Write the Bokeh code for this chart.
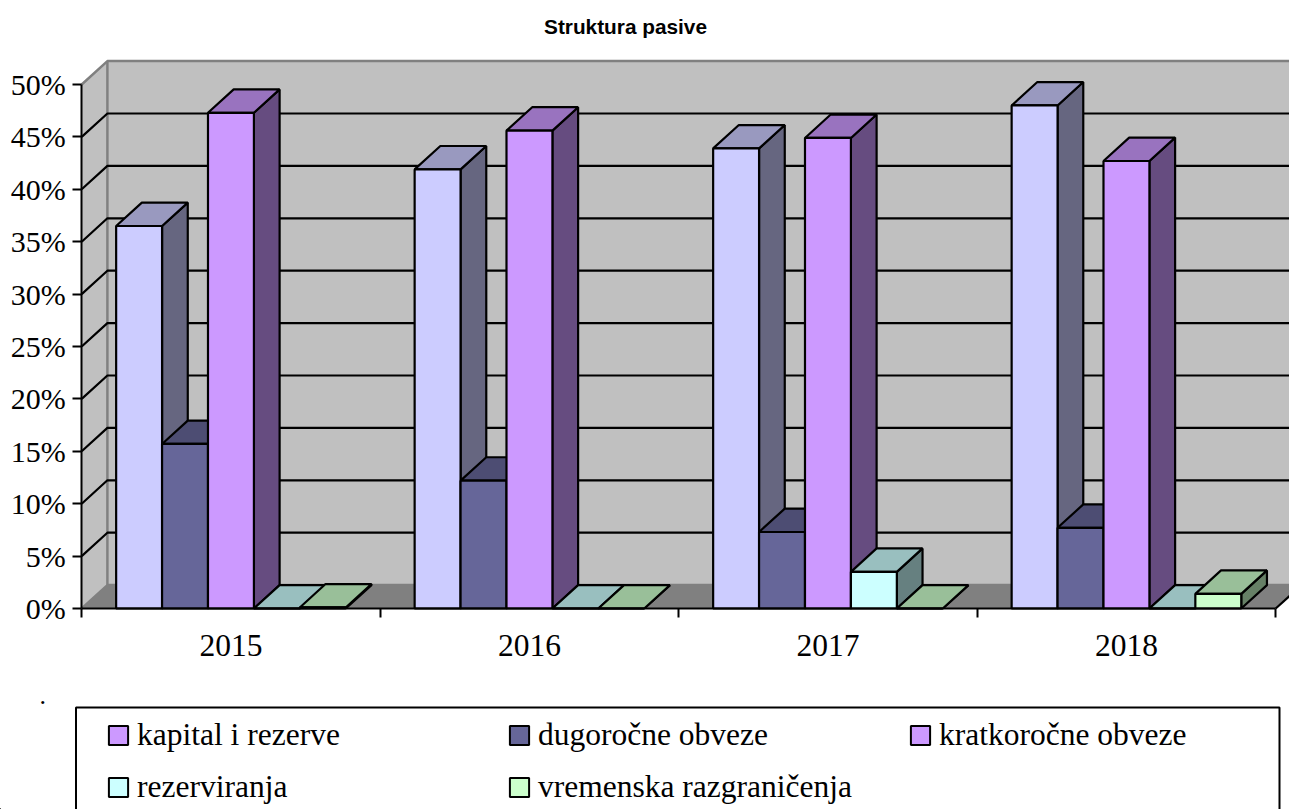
from bokeh.plotting import figure
from bokeh.embed import file_html
from bokeh.resources import INLINE
from bokeh.models import (FixedTicker, Legend, LegendItem, BoxAnnotation, Label, Range1d)

years = ["2015", "2016", "2017", "2018"]
kapital = [36.5, 41.9, 43.9, 48.0]
dugorocne = [15.7, 12.2, 7.3, 7.7]
kratkorocne = [47.3, 45.6, 44.9, 42.7]
rezerviranja = [0.0, 0.0, 3.5, 0.0]
vremenska = [0.1, 0.0, 0.0, 1.4]
series = [kapital, dugorocne, kratkorocne, rezerviranja, vremenska]
series_names = ["kapital i rezerve", "dugoročne obveze", "kratkoročne obveze", "rezerviranja", "vremenska razgraničenja"]
front_colors = ["#CCCCFF", "#666699", "#CC99FF", "#CCFFFF", "#CCFFCC"]
top_colors = ["#9999BF", "#4D4D73", "#9973BF", "#99BFBF", "#99BF99"]
side_colors = ["#666680", "#33334D", "#664C80", "#668080", "#668066"]
legend_colors = ["#CC99FF", "#666699", "#CC99FF", "#CCFFFF", "#CCFFCC"]
y_ticks = [0, 5, 10, 15, 20, 25, 30, 35, 40, 45, 50]

W, H = 1289, 809
PX_X = 298.5
PX_Y = 10.48
X0 = 81.2
Y0 = 608
DX = 25.7 / PX_X
DY = 23.4 / PX_Y
BW = 1 / 6.5
GAP = 0.75 * BW
X_END = (W - X0) / PX_X
LW = 2.2

p = figure(width=W, height=H,
           x_range=Range1d(-X0 / PX_X, X_END), y_range=Range1d((Y0 - H) / PX_Y, Y0 / PX_Y),
           output_backend="svg", toolbar_location=None,
           min_border=0, outline_line_color=None, background_fill_color="white")
p.grid.visible = False

# walls and floor
xe = 4
p.patch([DX, xe + DX, xe + DX, DX], [DY, DY, 50 + DY, 50 + DY], fill_color="#C0C0C0", line_color=None)
p.patch([0, DX, DX, 0], [0, DY, 50 + DY, 50], fill_color="#C0C0C0", line_color=None)
p.patch([0, DX, xe + DX, xe], [0, DY, DY, 0], fill_color="#808080", line_color=None)

# wall outlines
p.multi_line([[0, DX, xe + DX], [DX, DX], [0, DX], [DX, xe + DX]],
             [[50, 50 + DY, 50 + DY], [DY, 50 + DY], [0, DY], [DY, DY]],
             line_color="#808080", line_width=2.5)
p.line([xe, xe + DX], [0, DY], line_color="black", line_width=LW)
# gridlines
gx, gy = [], []
for v in y_ticks[1:-1]:
    gx.append([0, DX, xe + DX])
    gy.append([v, v + DY, v + DY])
p.multi_line(gx, gy, line_color="black", line_width=LW)

# 3D bars: painter's order, side and top first, then the front
xs, ys, fills = [], [], []
for c in range(len(years)):
    for s, vals in enumerate(series):
        v = vals[c]
        x0 = c + GAP + s * BW
        x1 = x0 + BW
        xs.append([x1, x1 + DX, x1 + DX, x1]); ys.append([0, DY, v + DY, v]); fills.append(side_colors[s])
        xs.append([x0, x1, x1 + DX, x0 + DX]); ys.append([v, v, v + DY, v + DY]); fills.append(top_colors[s])
        xs.append([x0, x1, x1, x0]); ys.append([0, 0, v, v]); fills.append(front_colors[s])
p.patches(xs, ys, fill_color=fills, line_color="black", line_width=LW)

# axes, fixed inside the frame
ya = p.yaxis[0]
ya.fixed_location = 0
ya.ticker = FixedTicker(ticks=y_ticks)
ya.major_label_overrides = {v: f"{v}%" for v in y_ticks}
ya.bounds = (0, 50)
ya.major_tick_out = 9
ya.major_tick_in = 0
ya.minor_tick_out = 0
ya.minor_tick_in = 0
ya.axis_line_width = 2
ya.major_tick_line_width = 2
ya.axis_line_color = "black"
ya.major_tick_line_color = "black"
ya.major_label_standoff = 7
ya.major_label_text_font = "Liberation Serif"
ya.major_label_text_font_size = "30px"
ya.major_label_text_color = "black"

xa = p.xaxis[0]
xa.fixed_location = 0
xa.ticker = FixedTicker(ticks=[i + 0.5 for i in range(4)], minor_ticks=list(range(5)))
xa.major_label_overrides = {i + 0.5: years[i] for i in range(4)}
xa.bounds = (0, 4)
xa.major_tick_out = 0
xa.major_tick_in = 0
xa.minor_tick_out = 9
xa.minor_tick_in = 0
xa.minor_tick_line_color = "black"
xa.minor_tick_line_width = 2
xa.axis_line_width = 2
xa.axis_line_color = "black"
xa.major_label_standoff = 17
xa.major_label_text_font = "Liberation Serif"
xa.major_label_text_font_size = "31.5px"
xa.major_label_text_color = "black"

# legend
items = []
for name, col in zip(series_names, legend_colors):
    r = p.vbar(x=[-10], bottom=[-101], top=[-100], width=0.1, fill_color=col, line_color="black", line_width=2)
    items.append(LegendItem(label=name, renderers=[r]))
leg = Legend(items=items, ncols=3, nrows=2, location=(106, 4), orientation="horizontal",
             glyph_width=24, glyph_height=24, label_standoff=7, label_width=354, label_height=32,
             spacing=16, padding=0, margin=0,
             label_text_font="Liberation Serif", label_text_font_size="31.5px", label_text_color="black",
             border_line_color=None, background_fill_alpha=0)
p.add_layout(leg, "center")

p.add_layout(BoxAnnotation(left=75.5, right=1279, top=102, bottom=-30,
                           left_units="screen", right_units="screen", top_units="screen", bottom_units="screen",
                           fill_alpha=0, line_color="black", line_alpha=1, line_width=2, editable=False))
p.add_layout(Label(x=39, y=106, x_units="screen", y_units="screen", text=".",
                   text_font="Liberation Serif", text_font_size="26px", text_color="black"))
p.add_layout(Label(x=625, y=783, x_units="screen", y_units="screen", text="Struktura pasive",
                   text_align="center", text_baseline="middle",
                   text_font="Liberation Sans", text_font_size="20.8px", text_font_style="bold", text_color="black"))

open("out.html", "w").write(file_html(p, INLINE))
